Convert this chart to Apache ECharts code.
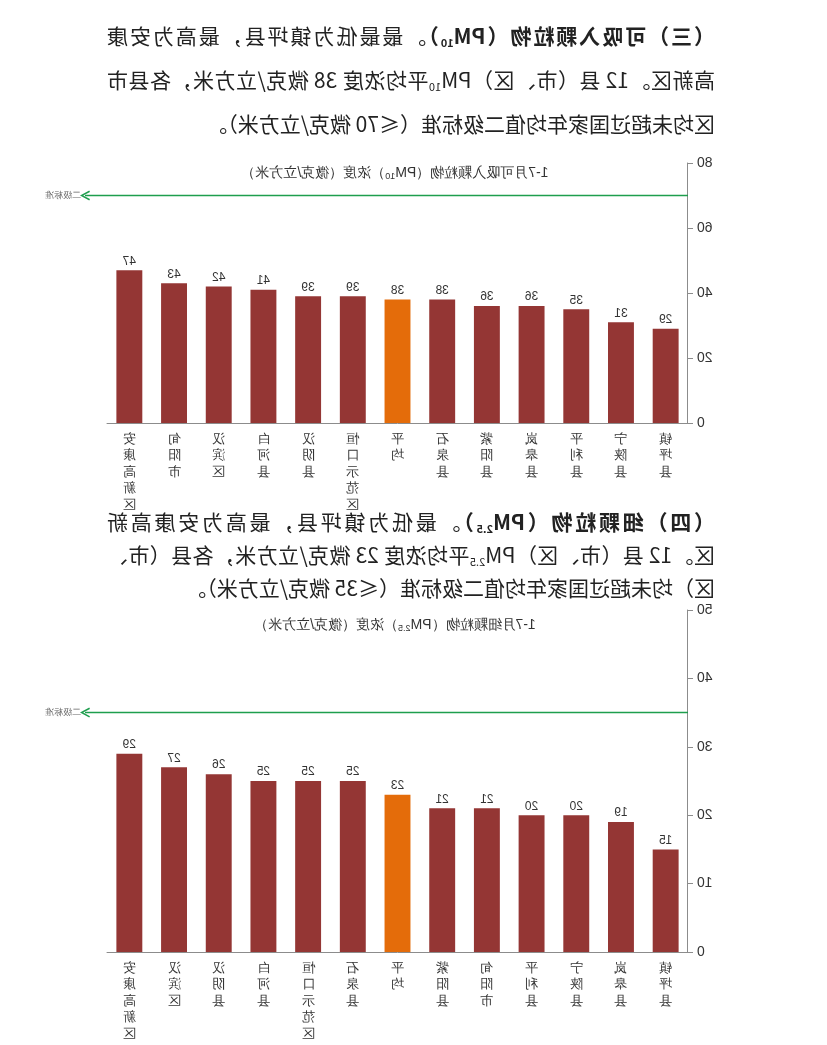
<!DOCTYPE html>
<html>
<head>
<meta charset="utf-8">
<script src="https://cdn.jsdelivr.net/npm/echarts@6/dist/echarts.min.js"></script>
<style>
  html, body { margin: 0; padding: 0; background: #fff; }
  /* 参考图为镜像扫描，整页水平翻转 */
  #page { position: relative; width: 827px; height: 1045px; transform: scaleX(-1); font-family: "Noto Sans CJK SC", sans-serif; color: #222; }
  #chart { position: absolute; left: 0; top: 0; width: 827px; height: 1045px; }
  .para { position: absolute; left: 112px; width: 608px; font-size: 21px; }
  .j { text-align: justify; text-align-last: justify; }
  sub { font-size: 11px; vertical-align: -3px; line-height: 0; }
</style>
</head>
<body>
<div id="page">
  <div id="chart"></div>
  <div class="para" style="top:13px;line-height:44px;">
    <div class="j"><b>（三）可吸入颗粒物（PM<sub>10</sub>）</b>。最最低为镇坪县，最高为安康</div>
    <div class="j">高新区。12 县（市、区）PM<sub>10</sub>平均浓度 38 微克/立方米，各县市</div>
    <div>区均未超过国家年均值二级标准（≤70 微克/立方米）。</div>
  </div>
  <div class="para" style="top:505px;line-height:33px;">
    <div class="j"><b>（四）细颗粒物（PM<sub>2.5</sub>）</b>。最低为镇坪县，最高为安康高新</div>
    <div class="j">区。12 县（市、区）PM<sub>2.5</sub>平均浓度 23 微克/立方米，各县（市、</div>
    <div>区）均未超过国家年均值二级标准（≤35 微克/立方米）。</div>
  </div>
</div>
<script>
// 数据
const pm10Categories = ['镇坪县', '宁陕县', '平利县', '岚皋县', '紫阳县', '石泉县', '平均', '恒口示范区', '汉阴县', '白河县', '汉滨区', '旬阳市', '安康高新区'];
const pm10Values = [29, 31, 35, 36, 36, 38, 38, 39, 39, 41, 42, 43, 47];
const pm10Limit = 70;
const pm10Ticks = { min: 0, max: 80, interval: 20 };

const pm25Categories = ['镇坪县', '岚皋县', '宁陕县', '平利县', '旬阳市', '紫阳县', '平均', '石泉县', '恒口示范区', '白河县', '汉阴县', '汉滨区', '安康高新区'];
const pm25Values = [15, 19, 20, 20, 21, 21, 23, 25, 25, 25, 26, 27, 29];
const pm25Limit = 35;
const pm25Ticks = { min: 0, max: 50, interval: 10 };

const RED = '#943634';
const ORANGE = '#E46C0A';
const GREEN = '#1E9E4E';
const AXIS = '#8c8c8c';

const myChart = echarts.init(document.getElementById('chart'));

function catAxis(gridIndex, data) {
  return {
    type: 'category', gridIndex, data,
    axisLine: { lineStyle: { color: AXIS } },
    axisTick: { lineStyle: { color: AXIS }, length: 5 },
    axisLabel: {
      color: '#333', fontSize: 13, lineHeight: 16.5, margin: 8, interval: 0,
      formatter: (v) => v.split('').join('\n')
    }
  };
}

function valAxis(gridIndex, ticks) {
  return {
    type: 'value', gridIndex, min: ticks.min, max: ticks.max, interval: ticks.interval,
    axisLine: { show: true, lineStyle: { color: AXIS } },
    axisTick: { show: true, length: 5, lineStyle: { color: AXIS } },
    axisLabel: { color: '#333', fontSize: 14, margin: 9 },
    splitLine: { show: false }
  };
}

function barSeries(idx, values) {
  return {
    type: 'bar', xAxisIndex: idx, yAxisIndex: idx, data: values, barWidth: '58%',
    itemStyle: { color: (p) => (p.name === '平均' ? ORANGE : RED) },
    label: { show: true, position: 'top', distance: 3, color: '#333', fontSize: 12 }
  };
}

function limitSeries(idx, limit) {
  return {
    type: 'line', xAxisIndex: idx, yAxisIndex: idx, data: [], silent: true,
    markLine: {
      silent: true,
      symbol: ['none', 'path://M0,10 L5,0 L10,10 L8.6,10.8 L5,3.4 L1.4,10.8 Z'],
      symbolSize: [10, 10],
      lineStyle: { color: GREEN, width: 1.3, type: 'solid' },
      label: { show: true, position: 'end', distance: 4, formatter: '二级标准', color: '#666', fontSize: 9 },
      data: [{ yAxis: limit }]
    }
  };
}

function hiddenX(gridIndex) {
  return { type: 'value', gridIndex, min: 0, max: 1, show: false };
}
function hiddenY(gridIndex, ticks) {
  return { type: 'value', gridIndex, min: ticks.min, max: ticks.max, show: false };
}

const titleRich = {
  n: { fontSize: 14, color: '#333', fontWeight: 'normal' },
  s: { fontSize: 9, color: '#333', fontWeight: 'normal', verticalAlign: 'bottom', padding: [7, 0, 0, 0] }
};

const option = {
  animation: false,
  title: [
    {
      text: '{n|1-7月可吸入颗粒物（PM}{s|10}{n|）浓度（微克/立方米）}',
      left: 427, top: 160, textAlign: 'center',
      textStyle: { fontWeight: 'normal', rich: titleRich }
    },
    {
      text: '{n|1-7月细颗粒物（PM}{s|2.5}{n|）浓度（微克/立方米）}',
      left: 427, top: 612, textAlign: 'center',
      textStyle: { fontWeight: 'normal', rich: titleRich }
    }
  ],
  grid: [
    { left: 139, width: 581, top: 163, height: 260 },
    { left: 139, width: 581, top: 610, height: 342 },
    { left: 139, width: 603, top: 163, height: 260 },
    { left: 139, width: 603, top: 610, height: 342 }
  ],
  xAxis: [catAxis(0, pm10Categories), catAxis(1, pm25Categories), hiddenX(2), hiddenX(3)],
  yAxis: [valAxis(0, pm10Ticks), valAxis(1, pm25Ticks), hiddenY(2, pm10Ticks), hiddenY(3, pm25Ticks)],
  series: [
    barSeries(0, pm10Values),
    barSeries(1, pm25Values),
    limitSeries(2, pm10Limit),
    limitSeries(3, pm25Limit)
  ]
};

myChart.setOption(option);
</script>
</body>
</html>
